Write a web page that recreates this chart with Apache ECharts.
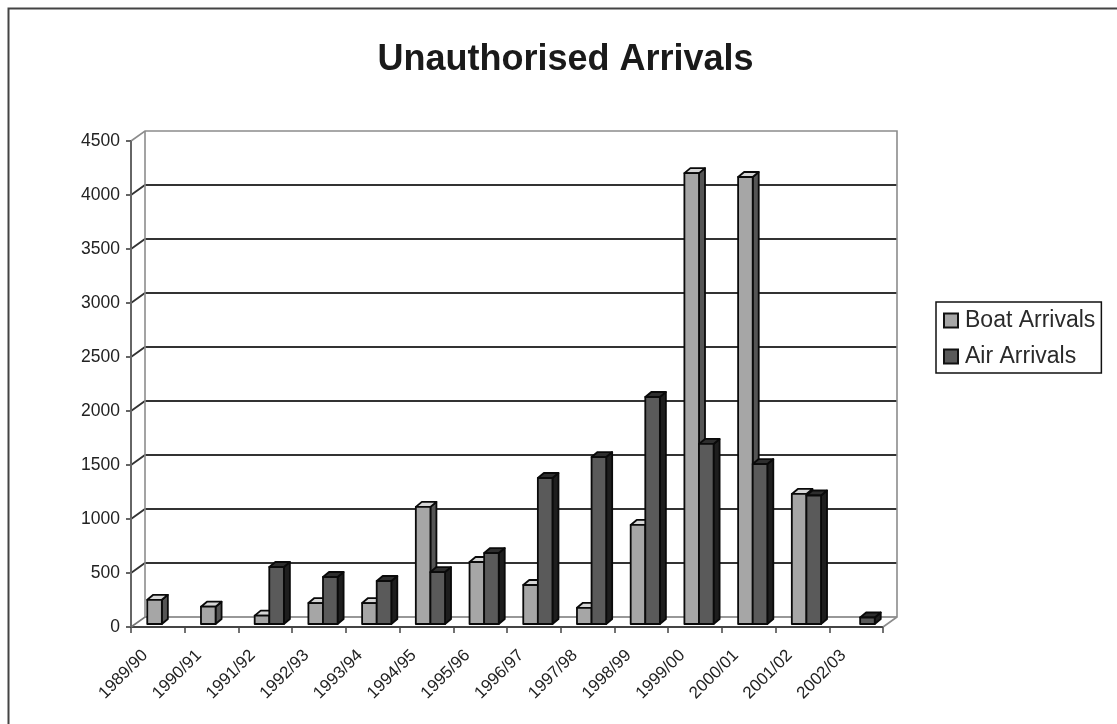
<!DOCTYPE html>
<html><head><meta charset="utf-8">
<style>html,body{margin:0;padding:0;background:#fff}#c{width:1117px;height:724px;filter:blur(0.4px)}</style>
<script src="https://cdn.jsdelivr.net/npm/echarts@6/dist/echarts.min.js"></script>
</head><body><div id="c"></div>
<script>
const categories = ['1989/90','1990/91','1991/92','1992/93','1993/94','1994/95','1995/96','1996/97','1997/98','1998/99','1999/00','2000/01','2001/02','2002/03'];
const boatArrivals = [224,160,78,194,194,1084,574,361,150,917,4175,4139,1204,null];
const airArrivals = [null,null,528,435,398,481,657,1352,1546,2102,1667,1481,1190,60];
const yTicks = [0,500,1000,1500,2000,2500,3000,3500,4000,4500];

const DX = 14, DY = -10;       // wall depth
const BX = 4, BY = -3;         // bar front offset from the front plane
const SX = 6, SY = -5;         // bar depth
const BW = 14.6;

function barItem(seriesIdx, palette) {
  return function (params, api) {
    const cat = api.value(0), v = api.value(1);
    if (v == null || isNaN(v)) return null;
    const c = api.coord([cat, v]), b = api.coord([cat, 0]);
    const x0 = c[0] + BX + (seriesIdx === 0 ? -BW : 0);
    const x1 = x0 + BW;
    const yt = c[1] + BY, yb = b[1] + BY;
    const line = { stroke: '#0a0a0a', lineWidth: 1.8, lineJoin: 'round' };
    return { type: 'group', children: [
      { type: 'polygon', shape: { points: [[x1,yb],[x1+SX,yb+SY],[x1+SX,yt+SY],[x1,yt]] },
        style: Object.assign({ fill: palette.side }, line) },
      { type: 'polygon', shape: { points: [[x0,yt],[x1,yt],[x1+SX,yt+SY],[x0+SX,yt+SY]] },
        style: Object.assign({ fill: palette.top }, line) },
      { type: 'rect', shape: { x: x0, y: yt, width: BW, height: yb - yt },
        style: Object.assign({ fill: palette.front }, line) }
    ]};
  };
}

const boatPal = { front:'#a6a6a6', top:'#d6d6d6', side:'#555555' };
const airPal  = { front:'#5a5a5a', top:'#2e2e2e', side:'#1e1e1e' };

const option = {
  animation: false,
  backgroundColor: '#ffffff',
  textStyle: { fontFamily: 'Liberation Sans' },
  title: { text: 'Unauthorised Arrivals', left: 560.5, textAlign: 'center', top: 37,
    textStyle: { fontFamily: 'Liberation Sans', fontSize: 36, fontWeight: 'bold', color: '#1a1a1a' } },
  legend: {
    left: 936, top: 302, orient: 'vertical', padding: [7, 6, 5, 7], itemGap: 13,
    itemWidth: 14, itemHeight: 14, icon: 'rect', selectedMode: false,
    borderColor: '#111', borderWidth: 1.5, backgroundColor: '#fff',
    textStyle: { fontFamily: 'Liberation Sans', fontSize: 23, color: '#2a2a2a', padding: [0,0,0,2] },
    data: ['Boat Arrivals', 'Air Arrivals']
  },
  grid: { left: 131, right: 1117 - 883, top: 141, bottom: 724 - 627, containLabel: false },
  xAxis: {
    type: 'category', data: categories, boundaryGap: true,
    axisLine: { show: true, lineStyle: { color: '#444', width: 2 } },
    axisTick: { show: true, length: 6, alignWithLabel: false, lineStyle: { color: '#444', width: 1.5 } },
    axisLabel: { rotate: 45, interval: 0, margin: 13, fontSize: 17, color: '#222', padding: [0, 18, 0, 0] }
  },
  yAxis: {
    type: 'value', min: 0, max: 4500, interval: 500,
    axisLine: { show: true, lineStyle: { color: '#666', width: 2 } },
    axisTick: { show: true, length: 5, lineStyle: { color: '#333', width: 1.5 } },
    axisLabel: { fontSize: 17.5, color: '#222', margin: 11, formatter: v => String(v) },
    splitLine: { show: false }
  },
  series: [
    { // walls and floor behind the bars, from the y ticks
      type: 'custom', name: 'walls', silent: true, z: 1, coordinateSystem: 'cartesian2d',
      legendHoverLink: false,
      data: yTicks.map(t => [0, t]),
      renderItem: function (params, api) {
        const t = api.value(1);
        const l = api.coord([0, t]);
        const cs = params.coordSys;
        const fx = cs.x, rx = cs.x + cs.width;
        const y = l[1];
        const kids = [];
        if (t === 4500) {
          kids.push({ type:'polyline', shape:{ points:[[fx,y],[fx+DX,y+DY],[rx+DX,y+DY],[rx+DX,cs.y+cs.height+DY],[rx,cs.y+cs.height]] },
            style:{ fill:'none', stroke:'#8c8c8c', lineWidth:1.6 } });
          kids.push({ type:'line', shape:{ x1:fx+DX,y1:y+DY,x2:fx+DX,y2:cs.y+cs.height+DY },
            style:{ stroke:'#8c8c8c', lineWidth:1.6 } });
          kids.push({ type:'line', shape:{ x1:fx,y1:y,x2:fx,y2:cs.y+cs.height },
            style:{ stroke:'#666', lineWidth:2 } });
        } else if (t === 0) {
          kids.push({ type:'polyline', shape:{ points:[[fx,y],[fx+DX,y+DY],[rx+DX,y+DY]] },
            style:{ fill:'none', stroke:'#777', lineWidth:1.6 } });
        } else {
          kids.push({ type:'polyline', shape:{ points:[[fx,y],[fx+DX,y+DY],[rx+DX,y+DY]] },
            style:{ fill:'none', stroke:'#333', lineWidth:1.8 } });
        }
        return { type:'group', children:kids };
      }
    },
    { type: 'custom', name: 'Boat Arrivals', z: 3, coordinateSystem: 'cartesian2d',
      itemStyle: { color: boatPal.front, borderColor: '#111', borderWidth: 1.5 },
      encode: { x: 0, y: 1 },
      data: categories.map((c, i) => [i, boatArrivals[i]]),
      renderItem: barItem(0, boatPal) },
    { type: 'custom', name: 'Air Arrivals', z: 4, coordinateSystem: 'cartesian2d',
      itemStyle: { color: airPal.front, borderColor: '#111', borderWidth: 1.5 },
      encode: { x: 0, y: 1 },
      data: categories.map((c, i) => [i, airArrivals[i]]),
      renderItem: barItem(1, airPal) }
  ],
  graphic: [
    { type:'polyline', silent:true, z:0,
      shape:{ points:[[8.5,724],[8.5,8.5],[1117,8.5]] },
      style:{ fill:'none', stroke:'#444', lineWidth:2 } }
  ]
};
const chart = echarts.init(document.getElementById('c'), null, { renderer: 'canvas' });
chart.setOption(option);
</script></body></html>
